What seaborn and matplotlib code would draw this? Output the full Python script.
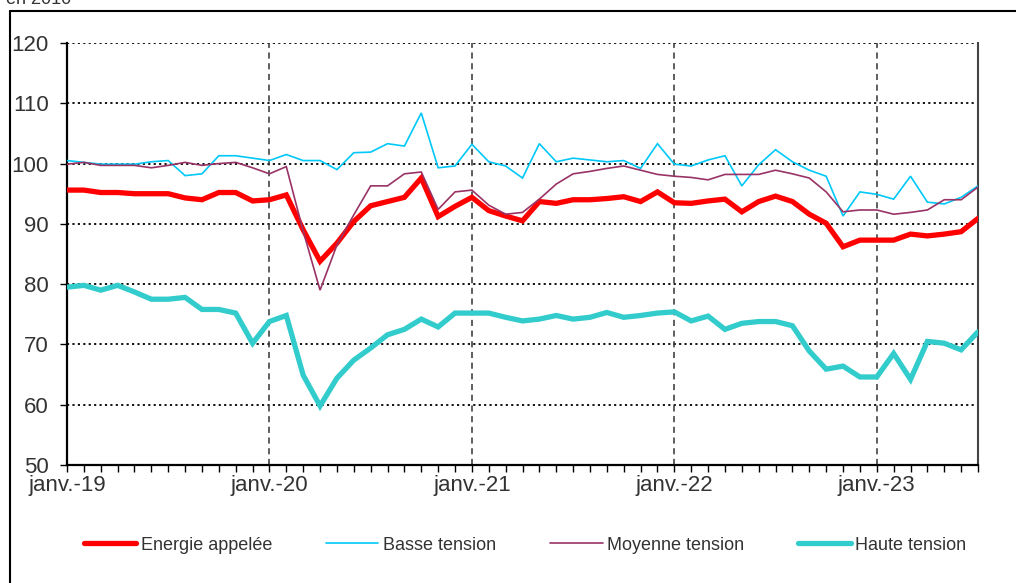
import numpy as np
import pandas as pd
import matplotlib
matplotlib.use("Agg")
import matplotlib.pyplot as plt
from matplotlib.lines import Line2D
from matplotlib.ticker import MultipleLocator, FixedLocator
import seaborn as sns

# Months Jan 2019 -> Jul 2023
months = pd.date_range("2019-01-01", periods=55, freq="MS")
year_labels = ["janv.-19", "janv.-20", "janv.-21", "janv.-22", "janv.-23"]

energie = [95.6, 95.6, 95.2, 95.2, 95.0, 95.0, 95.0, 94.3, 94.0, 95.2,
           95.2, 93.8, 94.0, 94.8, 89.0, 83.8, 86.8, 90.4, 93.0, 93.7,
           94.4, 97.6, 91.2, 92.9, 94.4, 92.2, 91.3, 90.5, 93.7, 93.4,
           94.0, 94.0, 94.2, 94.5, 93.7, 95.3, 93.5, 93.4, 93.8, 94.1,
           92.0, 93.7, 94.6, 93.7, 91.6, 90.1, 86.2, 87.3, 87.3, 87.3,
           88.3, 88.0, 88.3, 88.7, 90.9]
basse = [100.5, 100.2, 99.9, 99.9, 99.9, 100.3, 100.5, 98.0, 98.3, 101.3,
         101.3, 100.9, 100.5, 101.5, 100.5, 100.5, 99.0, 101.8, 101.9, 103.3,
         102.9, 108.4, 99.3, 99.6, 103.2, 100.3, 99.6, 97.6, 103.3, 100.3,
         100.9, 100.6, 100.3, 100.5, 99.2, 103.3, 99.9, 99.6, 100.6, 101.3,
         96.3, 99.8, 102.3, 100.3, 98.9, 97.9, 91.3, 95.3, 94.9, 94.1,
         97.9, 93.6, 93.3, 94.4, 96.3]
moyenne = [99.9, 100.2, 99.7, 99.7, 99.7, 99.3, 99.7, 100.2, 99.7, 100.0,
           100.2, 99.3, 98.3, 99.5, 88.8, 79.0, 86.5, 91.5, 96.3, 96.3,
           98.3, 98.6, 92.4, 95.3, 95.6, 93.1, 91.6, 91.9, 94.1, 96.6,
           98.3, 98.7, 99.2, 99.6, 98.9, 98.2, 97.9, 97.7, 97.3, 98.2,
           98.2, 98.2, 98.9, 98.3, 97.6, 95.3, 92.0, 92.3, 92.3, 91.6,
           91.9, 92.3, 94.0, 94.0, 96.1]
haute = [79.5, 79.8, 79.0, 79.8, 78.7, 77.5, 77.5, 77.8, 75.8, 75.8,
         75.2, 70.2, 73.8, 74.8, 64.9, 59.8, 64.4, 67.4, 69.4, 71.6,
         72.5, 74.2, 72.9, 75.2, 75.2, 75.2, 74.5, 73.9, 74.2, 74.8,
         74.2, 74.5, 75.3, 74.5, 74.8, 75.2, 75.4, 73.9, 74.7, 72.5,
         73.5, 73.8, 73.8, 73.1, 68.9, 65.9, 66.4, 64.6, 64.6, 68.5,
         64.2, 70.5, 70.2, 69.1, 72.1]

series_names = ["Energie appelée", "Basse tension", "Moyenne tension", "Haute tension"]
series_vals = [energie, basse, moyenne, haute]
colors = ["#FF0000", "#00C8F8", "#993366", "#33CCCC"]
widths = [3.8, 1.2, 1.2, 3.8]

idx = np.arange(len(months))
df = pd.concat([pd.DataFrame({"m": idx, "val": v, "serie": n})
                for n, v in zip(series_names, series_vals)], ignore_index=True)

sns.set_style("white")
plt.rcParams["font.family"] = ["Liberation Sans", "DejaVu Sans"]

fig = plt.figure(figsize=(10.16, 5.83), dpi=100)
ax = fig.add_axes([67/1016, 1 - 465/583, (978-67)/1016, (465-43)/583])

# grid first
for yv in [60, 70, 80, 90, 100, 110, 120]:
    ax.axhline(yv, color="black", lw=1.3, ls=(0, (1.2, 1.8)), zorder=1)
for xv in [12, 24, 36, 48]:
    ax.axvline(xv, color="#333333", lw=1.1, ls=(0, (4, 3)), zorder=1)

for n, c, w in zip(series_names, colors, widths):
    sns.lineplot(data=df[df["serie"] == n], x="m", y="val", color=c, lw=w,
                 ax=ax, label=n, zorder=3, solid_joinstyle="miter")

ax.set_xlim(0, 54)
ax.set_ylim(50, 120)
ax.yaxis.set_major_locator(MultipleLocator(10))
ax.xaxis.set_major_locator(FixedLocator([0, 12, 24, 36, 48]))
ax.xaxis.set_minor_locator(MultipleLocator(1))
ax.set_xticklabels(year_labels)
ax.set_xlabel("")
ax.set_ylabel("")
ax.tick_params(axis="y", which="major", direction="out", length=5, width=1,
               labelsize=16, colors="black", labelcolor="#333333", pad=8, left=True)
ax.tick_params(axis="x", which="both", direction="out", length=5, width=1,
               labelsize=16, colors="black", labelcolor="#333333", pad=2.5, bottom=True)

ax.spines["left"].set_color("black")
ax.spines["left"].set_linewidth(1.6)
ax.spines["bottom"].set_color("black")
ax.spines["bottom"].set_linewidth(1.6)
ax.spines["right"].set_color("#444444")
ax.spines["right"].set_linewidth(1.5)
ax.spines["top"].set_visible(False)

ax.get_legend().remove()
handles = [Line2D([0], [0], color=c, lw=w, solid_capstyle="round") for c, w in zip(colors, widths)]
leg = fig.legend(handles, series_names, loc="center", bbox_to_anchor=(525/1016, 1 - 545/583),
                 ncol=4, frameon=False, fontsize=13, handlelength=2.9, handletextpad=0.25,
                 columnspacing=3.0)
for t in leg.get_texts():
    t.set_color("#333333")

# outer frame
fig.add_artist(Line2D([10/1016, 10/1016], [0, 1 - 11/583], color="black", lw=1.5,
                      transform=fig.transFigure))
fig.add_artist(Line2D([10/1016, 1], [1 - 11/583, 1 - 11/583], color="black", lw=1.5,
                      transform=fig.transFigure))
fig.text(6/1016, 1 - 4/583, "en 2010", fontsize=13, color="#333333", va="baseline", ha="left")

fig.savefig("out.png", dpi=100)
